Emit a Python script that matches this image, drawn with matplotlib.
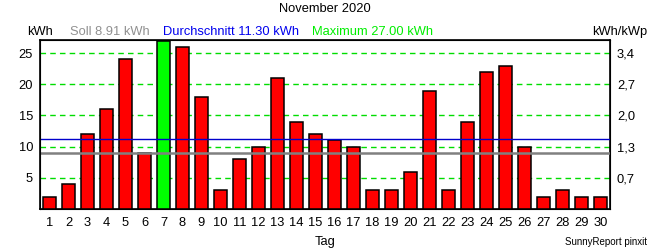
import matplotlib
matplotlib.use("Agg")
import matplotlib.pyplot as plt

plt.rcParams['font.family'] = ['Liberation Sans', 'DejaVu Sans']

days = list(range(1, 31))
energy_kwh = [2, 4, 12, 16, 24, 9, 27, 26, 18, 3,
              8, 10, 21, 14, 12, 11, 10, 3, 3, 6,
              19, 3, 14, 22, 23, 10, 2, 3, 2, 2]
soll = 8.91
average = 11.30
maximum = 27.00
left_ticks = [5, 10, 15, 20, 25]
right_tick_labels = ["0,7", "1,3", "2,0", "2,7", "3,4"]

FS = 9.3

fig = plt.figure(figsize=(6.5, 2.5), dpi=100)
ax = fig.add_axes([40/650, 1-209/250, 570/650, 169/250])

colors = ['#00ff00' if v == max(energy_kwh) else '#ff0000' for v in energy_kwh]
ax.bar(days, energy_kwh, width=0.68, color=colors, edgecolor='black', linewidth=1.1, zorder=3)

for t in left_ticks:
    ax.axhline(t, color='#00dd00', linestyle=(0, (4, 3)), linewidth=1.0, zorder=1)
ax.axhline(average, color='#0000cc', linewidth=1.0, zorder=4)
ax.axhline(soll, color='#808080', linewidth=1.8, zorder=4)

ax.set_xlim(0.5, 30.5)
ax.set_ylim(0, 27.1)
ax.set_xticks(days)
ax.set_xticklabels([str(d) for d in days], fontsize=FS)
ax.set_yticks(left_ticks)
ax.set_yticklabels([str(t) for t in left_ticks], fontsize=FS)
ax.tick_params(axis='x', length=0, pad=6)
ax.tick_params(axis='y', length=0, pad=5)
for s in ax.spines.values():
    s.set_linewidth(1.2)

ax2 = ax.twinx()
ax2.set_ylim(ax.get_ylim())
ax2.set_yticks(left_ticks)
ax2.set_yticklabels(right_tick_labels, fontsize=FS)
ax2.tick_params(axis='y', length=0, pad=5)

fig.text(325/650, 1-242/250, "Tag", ha='center', va='center', fontsize=FS)

fig.text(325/650, 1-9/250, "November 2020", ha='center', va='center', fontsize=FS)
fig.text(27/650, 1-32/250, "kWh", ha='left', va='center', fontsize=FS)
fig.text(70/650, 1-32/250, f"Soll {soll:.2f} kWh", ha='left', va='center', fontsize=FS, color='#909090')
fig.text(163/650, 1-32/250, f"Durchschnitt {average:.2f} kWh", ha='left', va='center', fontsize=FS, color='#0000ee')
fig.text(312/650, 1-32/250, f"Maximum {maximum:.2f} kWh", ha='left', va='center', fontsize=FS, color='#00ee00')
fig.text(647/650, 1-32/250, "kWh/kWp", ha='right', va='center', fontsize=FS)
fig.text(647/650, 1-242/250, "SunnyReport pinxit", ha='right', va='center', fontsize=7)

fig.savefig("out.png", dpi=100)
